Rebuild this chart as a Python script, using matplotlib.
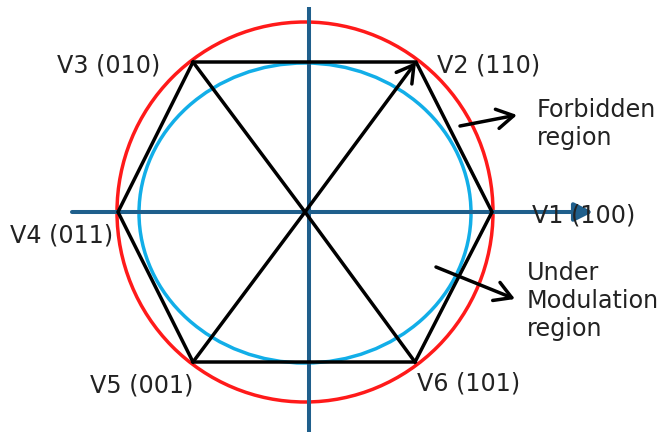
import numpy as np
import matplotlib
matplotlib.use("Agg")
import matplotlib.pyplot as plt
from matplotlib.patches import Ellipse, Polygon

# space-vector hexagon, drawn in a frame centred on the origin (units ~ px)
vertex_labels = ["V1 (100)", "V2 (110)", "V3 (010)", "V4 (011)", "V5 (001)", "V6 (101)"]
vertex_x = [187, 111, -112, -187, -112, 110]
vertex_y = [0, 150, 150, 0, -150, -150]

# outer (forbidden) circle and inscribed (under modulation) ellipse radii
outer_r = (188, 190)
inner_r = (166, 150)

# where the vertex labels sit (left edge, vertical centre)
label_x = [227, 132, -248, -295, -215, 112]
label_y = [-3, 147, 146, -23, -174, -172]

RED = "#ff1a1a"
LIGHT_BLUE = "#12aee8"
AXIS_BLUE = "#1f5f8c"
TEXT = "#222222"
FS = 17.2

fig = plt.figure(figsize=(6.59, 4.32), dpi=100)
ax = fig.add_axes([0, 0, 1, 1])
ax.set_xlim(-305, 354)
ax.set_ylim(-220, 212)
ax.axis("off")

lw = 2.5
ax.add_patch(Ellipse((0, 0), 2 * outer_r[0], 2 * outer_r[1], fill=False,
                     ec=RED, lw=lw, zorder=1))
ax.add_patch(Ellipse((0, -1), 2 * inner_r[0], 2 * inner_r[1], fill=False,
                     ec=LIGHT_BLUE, lw=lw, zorder=1))

# coordinate axes
ax.annotate("", xy=(288, 0), xytext=(-233, 0),
            arrowprops=dict(arrowstyle="-|>,head_length=0.8,head_width=0.4",
                            color=AXIS_BLUE, lw=lw + 0.4, shrinkA=0, shrinkB=0,
                            mutation_scale=14), zorder=2)
ax.plot([4, 4], [205, -220], color=AXIS_BLUE, lw=lw + 0.4, zorder=2,
        solid_capstyle="butt")

# hexagon and spokes
ax.add_patch(Polygon(np.column_stack([vertex_x, vertex_y]), closed=True,
                     fill=False, ec="black", lw=lw, joinstyle="miter", zorder=3))
for i, (vx, vy) in enumerate(zip(vertex_x, vertex_y)):
    if i == 1:
        ax.annotate("", xy=(vx, vy), xytext=(0, 0),
                    arrowprops=dict(arrowstyle="->,head_length=0.6,head_width=0.35",
                                    color="black", lw=lw, shrinkA=0, shrinkB=0,
                                    mutation_scale=20), zorder=3)
    elif i in (2, 4, 5):
        ax.plot([0, vx], [0, vy], color="black", lw=lw, zorder=3)

for name, lx, ly in zip(vertex_labels, label_x, label_y):
    ax.text(lx, ly, name, fontsize=FS, color=TEXT, ha="left", va="center", zorder=4)

# region callouts
arrow_kw = dict(arrowstyle="->,head_length=0.6,head_width=0.35", color="black",
                lw=lw, shrinkA=0, shrinkB=0, mutation_scale=20)
ax.annotate("", xy=(212, 97), xytext=(155, 86), arrowprops=arrow_kw, zorder=4)
ax.text(232, 88, "Forbidden\nregion", fontsize=FS, color=TEXT,
        ha="left", va="center", linespacing=1.2)
ax.annotate("", xy=(210, -87), xytext=(131, -55), arrowprops=arrow_kw, zorder=4)
ax.text(222, -89, "Under\nModulation\nregion", fontsize=FS, color=TEXT,
        ha="left", va="center", linespacing=1.2)

fig.savefig("out.png", dpi=100)
